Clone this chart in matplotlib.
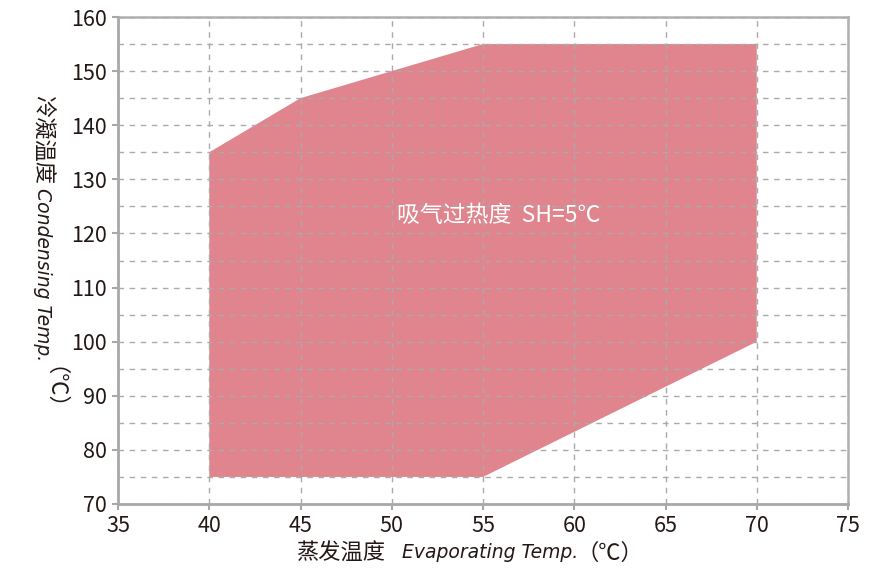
import matplotlib
matplotlib.use("Agg")
import matplotlib.pyplot as plt
from matplotlib.ticker import MultipleLocator

plt.rcParams['font.family'] = ['Noto Sans CJK SC', 'DejaVu Sans']

# Envelope boundary (evaporating temp, condensing temp)
evap = [40, 40, 45, 50, 55, 70, 70, 55]
cond = [75, 135, 145, 150, 155, 155, 100, 75]

x_ticks = [35, 40, 45, 50, 55, 60, 65, 70, 75]
y_ticks = [70, 80, 90, 100, 110, 120, 130, 140, 150, 160]
label_text = "吸气过热度  SH=5℃"

W, H = 894, 568
fig = plt.figure(figsize=(W / 100, H / 100), dpi=100)
ax = fig.add_axes([118 / W, 1 - 504 / H, (848 - 118) / W, (504 - 17) / H])

ax.fill(evap, cond, color='#e0848e', zorder=1, lw=0)

ax.set_xlim(35, 75)
ax.set_ylim(70, 160)
ax.set_xticks(x_ticks)
ax.set_yticks(y_ticks)
ax.yaxis.set_minor_locator(MultipleLocator(5))

ax.grid(True, which='both', axis='y', color='#aaaaaa', ls=(0, (4, 4)), lw=1, zorder=2)
ax.grid(True, which='major', axis='x', color='#aaaaaa', ls=(0, (4, 4)), lw=1, zorder=2)
ax.set_axisbelow(False)

for s in ['left', 'bottom']:
    ax.spines[s].set_color('#a8a8a8')
    ax.spines[s].set_linewidth(2)
for s in ['top', 'right']:
    ax.spines[s].set_color('#b0b0b0')
    ax.spines[s].set_linewidth(1.8)

ax.tick_params(which='major', direction='out', length=4, width=1.5, color='#a8a8a8',
               labelsize=15.5, labelcolor='#231815', pad=4)
ax.tick_params(which='minor', length=0)

ax.text(50.3, 123.4, label_text, color='white', fontsize=16.5, va='center', ha='left', zorder=3)

tc = '#231815'
# x label pieces
fig.text(296 / W, 1 - 553 / H, "蒸发温度", fontsize=16, color=tc, ha='left', va='center')
fig.text(402 / W, 1 - 553 / H, "Evaporating Temp.", fontsize=13.5, color=tc, ha='left', va='center',
         style='italic', family='DejaVu Sans')
fig.text(576 / W, 1 - 553 / H, "（℃）", fontsize=16, color=tc, ha='left', va='center')

# y label pieces
fig.text(42 / W, 1 - 95 / H, "冷凝温度", fontsize=16, color=tc, ha='center', va='top', rotation=270)
fig.text(42 / W, 1 - 188 / H, "Condensing Temp.", fontsize=13.5, color=tc, ha='center', va='top',
         rotation=270, style='italic', family='DejaVu Sans')
fig.text(42 / W, 1 - 366 / H, "（℃）", fontsize=16, color=tc, ha='center', va='top', rotation=270)

fig.savefig('out.png', dpi=100)
